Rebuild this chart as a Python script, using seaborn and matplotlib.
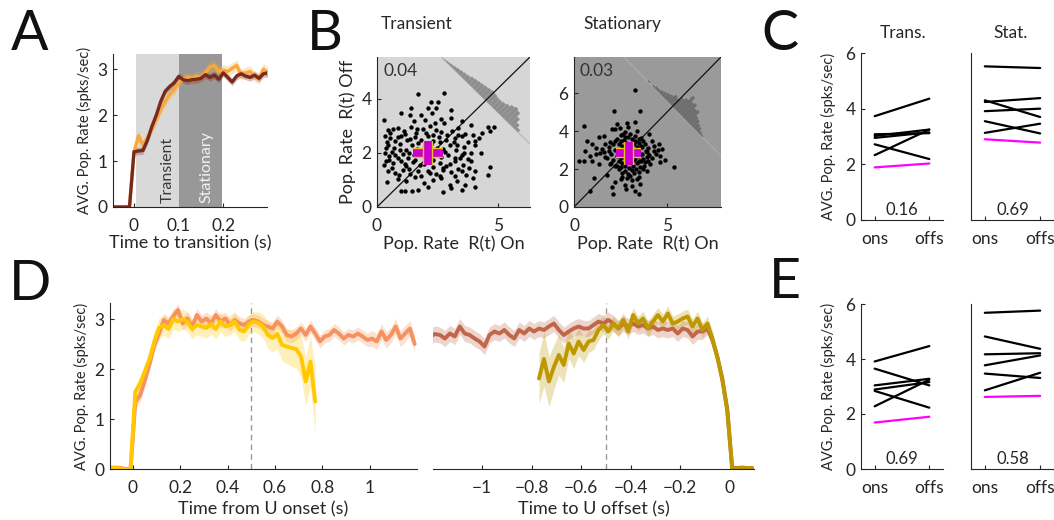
import numpy as np
import pandas as pd
import matplotlib
matplotlib.use("Agg")
import matplotlib.pyplot as plt
import matplotlib.patheffects as pe
from matplotlib.transforms import Affine2D
import seaborn as sns

# ---------------------------------------------------------------- data
# A: average population rate around the transition (10 ms bins)
a_time = np.round(np.linspace(-0.05, 0.30, 36), 3)
a_orange = [0, 0, 0, 0, 0.02, 1.2, 1.55, 1.35, 1.5, 1.68, 1.9, 2.12, 2.3, 2.45, 2.55, 2.7,
            2.78, 2.82, 2.8, 2.85, 2.82, 2.92, 3.05, 3.08, 2.95, 2.98, 2.95, 3.02, 3.08,
            2.88, 2.92, 2.95, 2.85, 2.8, 3.0, 2.92]
a_orange_sem = [0.02] * 5 + [0.12, 0.12] + [0.1] * 13 + [0.12] * 16
a_brown = [0, 0, 0, 0, 0, 1.2, 1.22, 1.23, 1.45, 1.75, 2.0, 2.3, 2.52, 2.62, 2.7, 2.84,
           2.77, 2.75, 2.77, 2.78, 2.8, 2.88, 2.82, 2.87, 2.78, 2.92, 2.82, 2.72, 2.85,
           2.9, 2.85, 2.82, 2.87, 2.8, 2.9, 2.92]
a_brown_sem = [0.02] * 5 + [0.08] * 31

# D left: aligned to U onset (20 ms bins)
d_on_time = np.round(np.linspace(-0.11, 1.19, 66), 2)
d_on_long = [0.0, 0.02, 0.03, 0.02, 0.0, 0.0,
             1.34, 1.47, 1.77, 2.1, 2.48, 2.71, 2.98, 2.91, 3.05, 3.18, 2.91, 3.01, 2.85, 3.08,
             2.95, 3.01, 2.91, 3.08, 2.95, 3.01, 2.88, 2.98, 2.91, 2.88, 2.95, 2.98, 2.95, 2.88,
             2.85, 2.81, 2.95, 2.85, 2.68, 2.65, 2.71, 2.81, 2.68, 2.85, 2.71, 2.55, 2.65, 2.68,
             2.78, 2.71, 2.61, 2.68, 2.65, 2.71, 2.65, 2.58, 2.61, 2.55, 2.75, 2.58, 2.68, 2.85,
             2.61, 2.71, 2.81, 2.5]
d_on_long_sem = [0.02] * 6 + [0.13] * 50 + [0.16] * 10
d_on_short = [0.02, 0.03, 0.02, 0.01, 0.0, 0.0,
              1.55, 1.7, 1.95, 2.2, 2.55, 2.82, 2.88, 2.8, 3.0, 2.95, 3.0, 2.95, 2.8, 2.88,
              2.85, 2.82, 2.9, 2.8, 2.95, 2.85, 2.88, 2.95, 2.78, 2.75, 2.9, 2.95, 2.92, 2.85,
              2.68, 2.62, 2.7, 2.48, 2.45, 2.42, 2.4, 2.25, 1.75, 2.15, 1.35]
d_on_short_sem = [0.02] * 6 + [0.15] * 4 + [0.2] * 22 + [0.22, 0.24, 0.26, 0.28, 0.3, 0.32,
                                                        0.34, 0.36, 0.38, 0.42, 0.48, 0.52, 0.65]

# D right: aligned to U offset (20 ms bins)
d_off_time = np.round(np.linspace(-1.21, 0.09, 66), 2)
d_off_long = [2.65, 2.7, 2.68, 2.61, 2.71, 2.65, 2.85, 2.71, 2.68, 2.61, 2.55, 2.45, 2.68,
              2.75, 2.71, 2.78, 2.68, 2.61, 2.78, 2.71, 2.81, 2.75, 2.81, 2.78, 2.85, 2.91,
              2.78, 2.68, 2.75, 2.81, 2.85, 2.81, 2.81, 2.88, 2.95, 2.91, 2.98, 2.91, 2.81,
              2.91, 2.85, 2.91, 2.85, 2.88, 2.81, 2.85, 2.78, 2.81, 2.78, 2.81, 2.71, 2.81,
              2.78, 2.65, 2.75, 2.75, 2.81, 2.58, 2.24, 1.81, 1.2, 0.02, 0.02, 0.03, 0.02, 0.02]
d_off_long_sem = [0.16] * 56 + [0.12, 0.12, 0.1, 0.1, 0.08] + [0.01] * 5
d_off_short_time = d_off_time[22:]
d_off_short = [1.81, 2.2, 1.75, 2.04, 2.28, 2.08, 2.51, 2.31, 2.55, 2.38, 2.55, 2.58, 2.78,
               2.88, 2.75, 2.91, 2.81, 2.98, 2.75, 3.08, 2.91, 3.01, 2.81, 2.95, 3.08, 2.95,
               3.11, 2.91, 2.95, 3.01, 3.05, 2.85, 3.01, 2.78, 2.91, 2.61, 2.24, 1.78, 1.17,
               0.0, 0.02, 0.02, 0.02, 0.02]
d_off_short_sem = [0.5, 0.55, 0.5, 0.45, 0.4, 0.35, 0.3, 0.3, 0.28, 0.25, 0.22, 0.2, 0.2,
                   0.18] + [0.15] * 22 + [0.12, 0.12, 0.1] + [0.01] * 5

# B: per-unit rates, transition onset vs offset
bl_on = [1.69, 2.74, 2.21, 2.51, 1.39, 2.10, 2.41, 0.97, 1.37, 1.80, 2.28, 3.05, 2.65, 3.06,
         3.50, 0.29, 1.52, 1.96, 2.37, 2.76, 3.33, 3.88, 4.57, 4.80, 4.32, 4.64,
         0.45, 0.66, 0.86, 1.11, 1.41, 1.66, 1.89, 2.17, 2.44, 2.65, 3.09, 3.33, 3.61, 3.95,
         0.32, 0.52, 0.75, 1.00, 1.25, 1.55, 1.80, 2.10, 2.32, 2.54, 2.85, 3.20, 3.50, 3.74,
         4.02, 0.40,
         0.45, 0.70, 0.93, 1.21, 1.44, 1.66, 1.96, 2.24, 2.72, 2.99, 3.26, 3.58, 4.02, 4.29, 3.88,
         0.32, 0.48, 0.73, 1.07, 1.28, 1.52, 1.82, 2.65, 2.92, 3.20, 3.50, 3.74,
         0.38, 0.66, 0.97, 1.21, 1.48, 1.76, 2.30, 2.58, 2.85, 3.20, 3.54, 3.88,
         0.45, 0.75, 1.07, 1.34, 1.69, 2.10, 2.44, 2.72, 3.03, 3.33, 3.68, 4.02, 4.64, 4.57,
         0.43, 0.86, 1.21, 1.55, 1.93, 2.30, 2.65, 2.99, 3.31, 3.61, 3.95,
         1.00, 1.17, 1.44, 1.69, 2.10, 2.72, 3.06, 3.50, 4.02,
         0.55, 0.85, 1.15, 1.35, 1.6, 2.0, 2.3, 2.6, 2.9, 3.15, 0.35, 0.6, 0.95, 1.3, 1.7,
         2.1, 2.45, 2.8, 3.3, 3.6, 0.5, 0.85, 1.15, 1.55, 1.95, 2.3, 2.7, 3.0, 3.4, 3.8,
         0.6, 0.9, 1.3, 1.8, 2.2, 2.6, 3.2, 3.5, 0.3, 4.2]
bl_off = [4.18, 4.21, 3.89, 3.89, 3.67, 3.67, 3.67, 3.47, 3.42, 3.39, 3.47, 3.59, 3.27, 3.30,
          3.17, 3.22, 3.17, 3.23, 3.11, 3.12, 2.92, 3.02, 2.95, 2.97, 2.73, 2.80,
          2.86, 2.90, 2.92, 2.83, 2.95, 2.88, 2.90, 2.99, 2.86, 2.78, 2.80, 2.68, 2.70, 2.68,
          2.62, 2.55, 2.46, 2.62, 2.49, 2.58, 2.49, 2.62, 2.43, 2.58, 2.49, 2.55, 2.62, 2.41,
          2.46, 2.41,
          2.31, 2.18, 2.33, 2.12, 2.31, 2.16, 2.25, 2.33, 2.16, 2.31, 2.12, 2.21, 2.31, 1.99, 1.99,
          2.00, 1.88, 1.94, 1.96, 1.81, 1.94, 1.99, 1.84, 1.94, 1.81, 1.94, 1.79,
          1.71, 1.63, 1.69, 1.50, 1.67, 1.57, 1.47, 1.63, 1.50, 1.69, 1.57, 1.71,
          1.34, 1.26, 1.38, 1.22, 1.34, 1.32, 1.22, 1.38, 1.30, 1.42, 1.20, 1.32, 1.49, 1.20,
          0.92, 1.05, 0.95, 1.10, 0.89, 1.01, 1.07, 0.83, 0.97, 0.80, 1.07,
          0.58, 0.58, 0.58, 0.64, 0.73, 0.55, 0.70, 0.64, 0.73,
          2.75, 2.6, 2.7, 2.5, 2.75, 2.75, 2.65, 2.4, 2.65, 2.4, 2.2, 2.05, 2.1, 2.0, 2.35,
          2.05, 2.2, 2.05, 2.3, 2.0, 1.75, 1.8, 1.6, 1.75, 1.6, 1.75, 1.45, 1.6, 1.8, 1.45,
          1.45, 1.2, 1.4, 1.15, 1.25, 1.15, 1.15, 1.35, 1.55, 2.55]
br_on = [3.30, 2.13, 3.57, 0.52, 2.31, 2.85, 3.30, 2.04, 2.49, 2.62, 4.01, 1.33, 1.59, 0.68,
         0.97, 1.68, 1.95, 2.22, 2.76, 3.48, 4.19, 4.55, 0.61, 0.88, 1.18, 1.51, 1.86, 3.66,
         3.93, 4.28, 4.73, 0.25, 0.54, 0.97, 1.33, 1.68, 1.95, 2.22, 3.48, 3.75, 4.11, 4.64,
         5.36, 2.40, 2.76, 3.12, 3.48, 3.93, 1.06, 1.77, 2.58, 3.03, 3.39, 2.22, 2.72, 3.12,
         3.57, 2.04, 2.80, 3.30, 0.88, 2.08, 3.48,
         2.3, 2.5, 2.7, 2.9, 3.1, 3.3, 3.5, 3.7, 2.4, 2.6, 2.8, 3.0, 3.2, 3.4, 3.6, 3.8, 4.0,
         2.2, 2.45, 2.65, 2.85, 3.05, 3.25, 3.45, 3.65, 3.85, 4.05, 2.3, 2.5, 2.7, 2.9, 3.1,
         3.3, 3.5, 3.7, 3.9, 4.2, 2.4, 2.6, 2.8, 3.0, 3.2, 3.4, 3.6, 3.8, 2.55, 2.75, 2.95,
         3.15, 3.35, 3.55, 2.0, 2.1, 1.9, 2.1, 4.3, 4.4, 3.0, 2.75, 3.3, 2.5, 3.6, 1.8, 1.6,
         4.6, 2.9, 3.2, 2.6, 3.7, 2.3, 4.0, 1.4, 1.2, 3.4, 2.2, 2.9, 3.1, 2.5, 2.85, 3.5,
         2.0, 4.5, 4.9]
br_off = [6.16, 5.04, 5.04, 4.26, 4.37, 4.40, 4.46, 4.11, 4.16, 3.84, 3.84, 3.70, 3.75, 3.46,
          3.32, 3.32, 3.40, 3.49, 3.67, 3.58, 3.49, 3.32, 2.96, 2.70, 2.79, 3.05, 2.96, 3.14,
          2.88, 2.96, 3.05, 2.40, 2.44, 2.44, 2.26, 2.61, 2.26, 2.18, 2.44, 2.18, 2.26, 2.35,
          2.09, 2.00, 1.91, 1.95, 1.82, 1.91, 1.53, 1.70, 1.56, 1.65, 1.47, 1.30, 1.18, 1.12,
          1.21, 1.04, 0.95, 0.86, 0.82, 0.68, 0.68,
          3.6, 3.5, 3.55, 3.7, 3.6, 3.45, 3.35, 3.5, 3.3, 3.2, 3.35, 3.25, 3.3, 3.15, 3.2, 3.3,
          3.1, 3.0, 2.95, 3.05, 2.9, 3.0, 2.85, 2.95, 2.8, 2.95, 2.75, 2.7, 2.6, 2.75, 2.55,
          2.7, 2.6, 2.7, 2.55, 2.65, 2.6, 2.4, 2.3, 2.45, 2.35, 2.45, 2.3, 2.4, 2.35, 2.1,
          2.15, 2.05, 2.15, 2.0, 2.1, 2.8, 2.5, 3.15, 3.3, 3.2, 2.8, 3.85, 3.95, 3.75, 3.8,
          3.65, 2.6, 2.9, 2.7, 1.75, 1.8, 1.8, 2.0, 2.15, 2.4, 2.85, 3.1, 4.0, 4.1, 4.2, 1.4,
          1.45, 1.55, 1.6, 2.3, 3.0, 2.5]
b_mean_transient = (2.10, 2.00)
b_spread_transient = (0.60, 0.45)
b_mean_stationary = (2.94, 2.82)
b_spread_stationary = (0.68, 0.59)
b_pvals = ["0.04", "0.03"]
# histograms of the on/off difference, drawn along the anti-diagonal
hist_transient = [1, 2, 3, 4, 5, 6, 7, 8, 10, 11, 12, 13, 14, 15, 16, 15, 14, 14, 15, 17,
                  20, 22, 20, 14, 8, 4]
hist_stationary = [1, 0, 1, 2, 2, 3, 4, 5, 6, 8, 7, 10, 12, 17, 13, 14, 11, 12, 8, 7, 5,
                   4, 2, 1]

# C / E: per-animal averages at onset and offset
epochs = ["ons", "offs"]
c_trans_ons = [3.73, 3.08, 3.02, 2.95, 2.72, 2.33]
c_trans_offs = [4.36, 3.12, 3.25, 3.15, 2.19, 3.25]
c_trans_mean = [1.89, 2.03]
c_stat_ons = [5.52, 4.30, 4.24, 3.91, 3.55, 3.13]
c_stat_offs = [5.46, 3.70, 4.38, 4.00, 3.11, 3.46]
c_stat_mean = [2.90, 2.78]
e_trans_ons = [3.91, 3.65, 3.04, 2.89, 2.84, 2.28]
e_trans_offs = [4.47, 3.04, 3.28, 3.16, 2.23, 3.25]
e_trans_mean = [1.69, 1.90]
e_stat_ons = [5.68, 4.82, 4.17, 3.77, 3.47, 2.86]
e_stat_offs = [5.76, 4.37, 4.21, 4.13, 3.31, 3.50]
e_stat_mean = [2.62, 2.66]
c_pvals = ["0.16", "0.69"]
e_pvals = ["0.69", "0.58"]

# ---------------------------------------------------------------- style
sns.set_theme(style="ticks")
FONT = ["Lato", "DejaVu Sans"]
plt.rcParams["font.family"] = FONT
INK = "#262626"
plt.rcParams.update({
    "axes.edgecolor": INK, "axes.labelcolor": INK, "xtick.color": INK, "ytick.color": INK,
    "text.color": INK, "axes.linewidth": 0.8,
})
TICK = 12.5
LAB = 13
YLAB = 10.5

ORANGE_A = "#f9a93c"
BROWN_A = "#7a2a1c"
SALMON = "#f5925f"
GOLD = "#ffc800"
TERRA = "#c0674a"
OLIVE = "#be9800"
MAGENTA = "#ff00ff"

fig = plt.figure(figsize=(10.54, 5.2), dpi=100)
W, H = 1054, 520


def add_ax(x0, y0, x1, y1):
    return fig.add_axes([x0 / W, 1 - y1 / H, (x1 - x0) / W, (y1 - y0) / H])


def style(ax, left=True):
    sns.despine(ax=ax, left=not left)
    ax.tick_params(direction="in", length=3, width=0.8, labelsize=TICK, pad=4)
    ax.tick_params(axis="x", pad=8)
    if not left:
        ax.tick_params(axis="y", left=False, labelleft=False)
    ax.set_facecolor("none")


def trace(ax, t, m, s, color, lw, alpha=0.3):
    m = np.asarray(m)
    s = np.asarray(s)
    ax.fill_between(t, m - s, m + s, color=color, alpha=alpha, lw=0)
    sns.lineplot(x=t, y=m, color=color, lw=lw, ax=ax, errorbar=None)


# ---------------------------------------------------------------- A
axA = add_ax(113, 54, 267, 207)
axA.axvspan(0.005, 0.1, color="#d9d9d9", lw=0)
axA.axvspan(0.1, 0.198, color="#989898", lw=0)
trace(axA, a_time, a_orange, a_orange_sem, ORANGE_A, 2.4)
trace(axA, a_time, a_brown, a_brown_sem, BROWN_A, 2.4)
axA.set_xlim(-0.047, 0.298)
axA.set_ylim(0, 3.33)
axA.set_xticks([0, 0.1, 0.2])
axA.set_xticklabels(["0", "0.1", "0.2"])
axA.set_yticks([0, 1, 2, 3])
style(axA)
axA.set_xlabel("Time to transition (s)", fontsize=LAB, labelpad=1)
axA.set_ylabel("AVG. Pop. Rate (spks/sec)", fontsize=YLAB, labelpad=4)
axA.text(0.075, 0.8, "Transient", rotation=90, ha="center", va="center", fontsize=11.5,
         color="#3a3a3a")
axA.text(0.163, 0.87, "Stationary", rotation=90, ha="center", va="center", fontsize=11.5,
         color="#f2f2f2")


# ---------------------------------------------------------------- B
def rotated_hist(ax, counts, s0, s1, centre, peak, color, line_color, line_span):
    n = len(counts)
    edges = np.linspace(s0, s1, n + 1)
    h = np.asarray(counts, float) / max(counts) * peak
    tr = Affine2D().rotate_deg(-45).translate(*centre) + ax.transAxes
    ax.plot(line_span, [0, 0], transform=tr, color=line_color, lw=0.7, zorder=1)
    ax.bar(edges[:-1], h, width=np.diff(edges), align="edge", color=color, lw=0,
           transform=tr, zorder=1)


def scatter_panel(ax, x, y, xmax, ymax, bg, mean, spread, pval, hist, hist_kw, yticks):
    ax.set_facecolor(bg)
    ax.set_xlim(0, xmax)
    ax.set_ylim(0, ymax)
    ax.plot([0, 1], [0, 1], transform=ax.transAxes, color="#111111", lw=0.9, zorder=2)
    rotated_hist(ax, hist, **hist_kw)
    sns.scatterplot(x=x, y=y, s=10, color="black", linewidth=0, ax=ax, zorder=3)
    ax.errorbar(mean[0], mean[1], xerr=spread[0], yerr=spread[1], fmt="none",
                ecolor="#cc00cc", elinewidth=5.5, capsize=0, zorder=4,
                path_effects=[pe.Stroke(linewidth=7.5, foreground="#e8c21a"), pe.Normal()])
    ax.text(0.04, 0.96, pval, transform=ax.transAxes, ha="left", va="top", fontsize=12.5,
            color="#333333")
    sns.despine(ax=ax)
    ax.tick_params(direction="in", length=3, width=0.8, labelsize=TICK, pad=4)
    ax.tick_params(axis="x", pad=8)
    ax.set_xticks([0, 5])
    ax.set_yticks(yticks)
    ax.set_xlabel("Pop. Rate  R(t) On", fontsize=LAB, labelpad=1)


axB1 = add_ax(377, 57, 530, 207)
scatter_panel(axB1, bl_on, bl_off, 6.3, 5.55, "#d6d6d6", b_mean_transient,
              b_spread_transient, b_pvals[0], hist_transient,
              dict(s0=-0.39, s1=0.30, centre=(0.71, 0.71), peak=0.11, color="#8e8e8e",
                   line_color="#b4b4b4", line_span=[-0.41, 0.44]), [0, 2, 4])
axB1.set_ylabel("Pop. Rate  R(t) Off", fontsize=LAB, labelpad=4)

axB2 = add_ax(574, 57, 721, 207)
scatter_panel(axB2, br_on, br_off, 7.9, 7.9, "#9a9a9a", b_mean_stationary,
              b_spread_stationary, b_pvals[1], hist_stationary,
              dict(s0=-0.24, s1=0.29, centre=(0.67, 0.67), peak=0.15, color="#6e6e6e",
                   line_color="#b0b0b0", line_span=[-0.48, 0.48]), [0, 2, 4, 6])

fig.text(417 / W, 1 - 24 / H, "Transient", ha="center", va="center", fontsize=12.5)
fig.text(622 / W, 1 - 24 / H, "Stationary", ha="center", va="center", fontsize=12.5)


# ---------------------------------------------------------------- C / E
def paired(ax, ons, offs, mean, pval, left=True):
    n = len(ons)
    df = pd.DataFrame({
        "animal": np.repeat(np.arange(n), 2),
        "epoch": np.tile([1, 2], n),
        "rate": np.column_stack([ons, offs]).ravel(),
    })
    sns.lineplot(data=df, x="epoch", y="rate", units="animal", estimator=None,
                 color="black", lw=1.6, ax=ax, legend=False)
    sns.lineplot(x=[1, 2], y=mean, color=MAGENTA, lw=1.6, ax=ax, errorbar=None)
    ax.set_xlim(0.75, 2.25)
    ax.set_ylim(0, 6)
    ax.set_xticks([1, 2])
    ax.set_xticklabels(epochs)
    ax.set_yticks([0, 2, 4, 6])
    style(ax)
    if not left:
        ax.tick_params(axis="y", left=False, labelleft=False)
    ax.set_xlabel("")
    ax.set_ylabel("")
    ax.text(1.5, 0.08, pval, ha="center", va="bottom", fontsize=12)


axC1 = add_ax(861, 53, 943, 220)
axC2 = add_ax(971, 53, 1054, 220)
paired(axC1, c_trans_ons, c_trans_offs, c_trans_mean, c_pvals[0])
paired(axC2, c_stat_ons, c_stat_offs, c_stat_mean, c_pvals[1], left=False)
axC1.set_ylabel("AVG. Pop. Rate (spks/sec)", fontsize=YLAB, labelpad=7)
fig.text(903 / W, 1 - 33 / H, "Trans.", ha="center", va="center", fontsize=12.5)
fig.text(1011 / W, 1 - 33 / H, "Stat.", ha="center", va="center", fontsize=12.5)

axE1 = add_ax(861, 304, 943, 469)
axE2 = add_ax(971, 304, 1054, 469)
paired(axE1, e_trans_ons, e_trans_offs, e_trans_mean, e_pvals[0])
paired(axE2, e_stat_ons, e_stat_offs, e_stat_mean, e_pvals[1], left=False)
axE1.set_ylabel("AVG. Pop. Rate (spks/sec)", fontsize=YLAB, labelpad=7)

# ---------------------------------------------------------------- D
axD1 = add_ax(110, 303, 417, 469)
axD1.axvline(0.5, color="#999999", lw=1, ls=(0, (4, 3)))
trace(axD1, d_on_time, d_on_long, d_on_long_sem, SALMON, 2.8, alpha=0.28)
trace(axD1, d_on_time[:len(d_on_short)], d_on_short, d_on_short_sem, GOLD, 2.8, alpha=0.28)
axD1.set_xlim(-0.097, 1.2)
axD1.set_ylim(0, 3.32)
axD1.set_xticks([0, 0.2, 0.4, 0.6, 0.8, 1])
axD1.set_xticklabels(["0", "0.2", "0.4", "0.6", "0.8", "1"])
axD1.set_yticks([0, 1, 2, 3])
style(axD1)
axD1.set_xlabel("Time from U onset (s)", fontsize=LAB, labelpad=4)
axD1.set_ylabel("AVG. Pop. Rate (spks/sec)", fontsize=YLAB, labelpad=4)

axD2 = add_ax(433, 303, 754, 469)
axD2.axvline(-0.5, color="#999999", lw=1, ls=(0, (4, 3)))
trace(axD2, d_off_time, d_off_long, d_off_long_sem, TERRA, 2.8, alpha=0.28)
trace(axD2, d_off_short_time, d_off_short, d_off_short_sem, OLIVE, 2.8, alpha=0.28)
axD2.set_xlim(-1.198, 0.098)
axD2.set_ylim(0, 3.32)
axD2.set_xticks([-1, -0.8, -0.6, -0.4, -0.2, 0])
axD2.set_xticklabels(["\u22121", "\u22120.8", "\u22120.6", "\u22120.4", "\u22120.2", "0"])
style(axD2, left=False)
axD2.set_xlabel("Time to U offset (s)", fontsize=LAB, labelpad=4)
axD2.set_ylabel("")

# ---------------------------------------------------------------- panel letters
for letter, x, y in [("A", 30, 35), ("B", 325, 35), ("C", 780, 35), ("D", 30, 285),
                     ("E", 785, 283)]:
    fig.text(x / W, 1 - y / H, letter, ha="center", va="center", fontsize=40,
             color="#111111")

fig.savefig("out.png", dpi=100)
